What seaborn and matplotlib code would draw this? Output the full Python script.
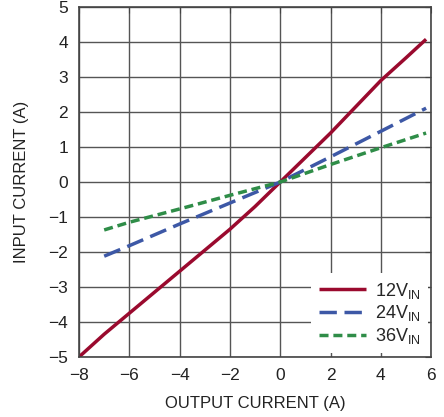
import numpy as np
import pandas as pd
import matplotlib
matplotlib.use("Agg")
import matplotlib.pyplot as plt
import seaborn as sns

# values
x_12v = [-8, -7, -6, -5, -4, -3, -2, -1, 0, 1, 2, 3, 4, 5, 5.8]
y_12v = [-5.0, -4.35, -3.75, -3.15, -2.55, -1.95, -1.35, -0.7, 0.0, 0.7, 1.4, 2.15, 2.9, 3.55, 4.08]
x_24v = [-7, -6, -4, -2, 0, 2, 4, 5.8]
y_24v = [-2.12, -1.82, -1.2, -0.6, 0.0, 0.72, 1.45, 2.11]
x_36v = [-7, -6, -4, -2, 0, 2, 4, 5.8]
y_36v = [-1.37, -1.15, -0.77, -0.38, 0.0, 0.5, 0.98, 1.4]
series_labels = ['12V$_{\\mathregular{IN}}$', '24V$_{\\mathregular{IN}}$', '36V$_{\\mathregular{IN}}$']

df = pd.concat([
    pd.DataFrame({'x': x_12v, 'y': y_12v, 'series': series_labels[0]}),
    pd.DataFrame({'x': x_24v, 'y': y_24v, 'series': series_labels[1]}),
    pd.DataFrame({'x': x_36v, 'y': y_36v, 'series': series_labels[2]}),
])

sns.set_style("white")
plt.rcParams['font.family'] = ['Liberation Sans', 'DejaVu Sans']

fig = plt.figure(figsize=(4.44, 4.17), dpi=100)
ax = fig.add_axes([0.178, 0.144, 0.793, 0.839])

palette = ['#9a0a2e', '#3d58a6', '#2f8d48']
sns.lineplot(data=df, x='x', y='y', hue='series', style='series',
             palette=palette, dashes=[(1, 0), (5, 2.2), (2.6, 1.4)],
             linewidth=2.5, sort=False, ax=ax)

ax.set_xlim(-8, 6)
ax.set_ylim(-5, 5)
ax.set_xticks(np.arange(-8, 7, 2))
ax.set_yticks(np.arange(-5, 6, 1))
ax.set_xticklabels([str(v).replace('-', '\u2212') for v in range(-8, 7, 2)])
ax.set_yticklabels([str(v).replace('-', '\u2212') for v in range(-5, 6)])
ax.grid(True, color='#555555', linewidth=1.0)
for s in ax.spines.values():
    s.set_color('#444444')
    s.set_linewidth(1.2)
ax.tick_params(direction='in', length=4, color='#444444', labelsize=12.5,
               labelcolor='#222222', top=True, right=True, pad=8)
ax.set_xlabel('OUTPUT CURRENT (A)', fontsize=12, color='#222222', labelpad=9)
ax.set_ylabel('INPUT CURRENT (A)', fontsize=12, color='#222222', labelpad=14)

leg = ax.legend(loc='lower right', frameon=True, fontsize=13, handlelength=2.6,
                borderaxespad=0.2, labelspacing=0.15, handletextpad=0.5)
leg.get_frame().set_edgecolor('none')
leg.get_frame().set_facecolor('white')
leg.get_frame().set_alpha(1)

fig.savefig('out.png', dpi=100)
